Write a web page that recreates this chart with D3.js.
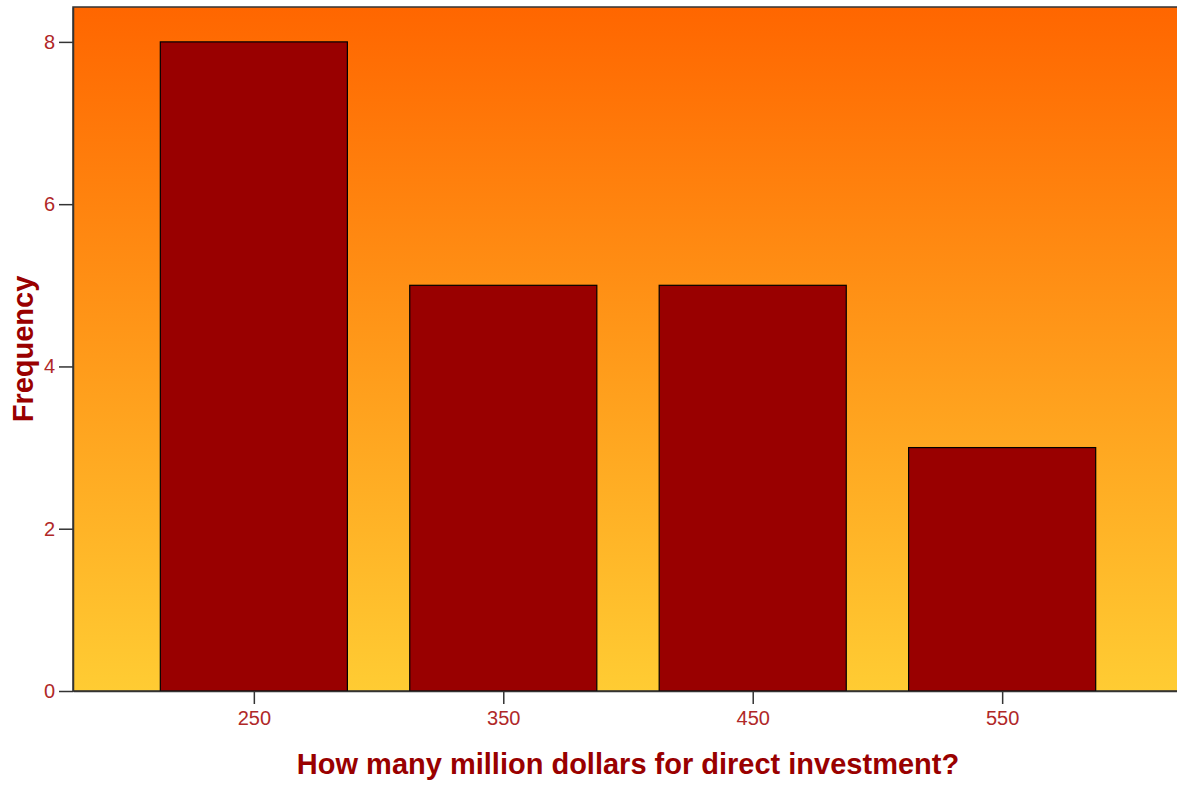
<!DOCTYPE html>
<html>
<head>
<meta charset="utf-8">
<script src="https://cdn.jsdelivr.net/npm/d3@7"></script>
<style>
  body { margin: 0; background: #fff; }
  svg { display: block; }
</style>
</head>
<body>
<script>
// histogram data
var bins = [250, 350, 450, 550];
var counts = [8, 5, 5, 3];
var yTicks = [0, 2, 4, 6, 8];
var binWidth = 75;

var width = 1177, height = 787;
var margin = {top: 7, right: -6, bottom: 96, left: 73};
var font = "'Liberation Sans', Arial, sans-serif";

var svg = d3.select("body")
    .append("svg")
    .attr("width", width)
    .attr("height", height);

var x = d3.scaleLinear()
    .domain([177.5, 622.5])
    .range([margin.left, width - margin.right]);

var y = d3.scaleLinear()
    .domain([0, 8.43])
    .range([height - margin.bottom, margin.top]);

// background gradient
var grad = svg.append("defs")
    .append("linearGradient")
    .attr("id", "bg")
    .attr("x1", "0%").attr("y1", "0%")
    .attr("x2", "0%").attr("y2", "100%");
grad.append("stop").attr("offset", "0%").attr("stop-color", "#ff6600");
grad.append("stop").attr("offset", "100%").attr("stop-color", "#ffcc33");

svg.append("rect")
    .attr("x", margin.left)
    .attr("y", margin.top)
    .attr("width", width - margin.right - margin.left)
    .attr("height", height - margin.bottom - margin.top)
    .style("fill", "url(#bg)")
    .style("stroke", "#333")
    .style("stroke-width", 1.5);

// bars
svg.append("g")
    .selectAll("rect")
    .data(bins)
    .enter().append("rect")
    .attr("x", function(d) { return x(d - binWidth / 2); })
    .attr("width", function(d) { return x(d + binWidth / 2) - x(d - binWidth / 2); })
    .attr("y", function(d, i) { return y(counts[i]); })
    .attr("height", function(d, i) { return y(0) - y(counts[i]); })
    .style("fill", "#990000")
    .style("stroke", "#000")
    .style("stroke-width", 1.2);

// axes
var xAxis = svg.append("g")
    .attr("transform", "translate(0," + y(0) + ")")
    .call(d3.axisBottom(x).tickValues(bins).tickSizeInner(13).tickSizeOuter(0)
          .tickPadding(7).tickFormat(d3.format("d")));

var yAxis = svg.append("g")
    .attr("transform", "translate(" + margin.left + ",0)")
    .call(d3.axisLeft(y).tickValues(yTicks).tickSizeInner(14).tickSizeOuter(0)
          .tickPadding(4).tickFormat(d3.format("d")));

[xAxis, yAxis].forEach(function(a) {
  a.select(".domain").style("stroke", "#333").style("stroke-width", 1.5);
  a.selectAll(".tick line").style("stroke", "#333").style("stroke-width", 1.5);
  a.selectAll(".tick text")
    .style("fill", "#b02828")
    .style("font-family", font)
    .style("font-size", "20px");
});

// axis titles
svg.append("text")
    .attr("x", 628)
    .attr("y", 774)
    .style("text-anchor", "middle")
    .style("font-family", font)
    .style("font-weight", "bold")
    .style("font-size", "29px")
    .style("fill", "#990000")
    .text("How many million dollars for direct investment?");

svg.append("text")
    .attr("transform", "translate(33,349) rotate(-90)")
    .style("text-anchor", "middle")
    .style("font-family", font)
    .style("font-weight", "bold")
    .style("font-size", "29px")
    .style("fill", "#990000")
    .text("Frequency");
</script>
</body>
</html>
